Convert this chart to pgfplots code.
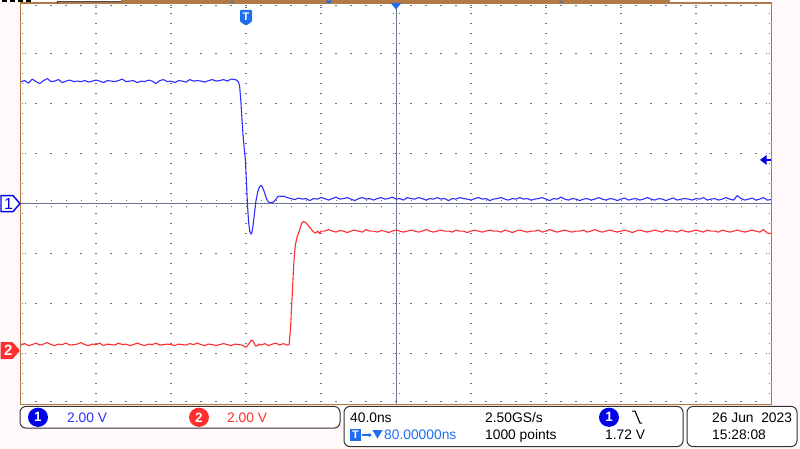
\documentclass[border=0pt]{standalone}
\usepackage{fontspec}
\setmainfont{Liberation Sans}
\usepackage{pgfplots}
\pgfplotsset{compat=1.18}
\usetikzlibrary{arrows.meta}
\definecolor{bg}{RGB}{255,249,252}
\definecolor{brd}{RGB}{178,122,70}
\definecolor{dotc}{RGB}{105,112,145}
\definecolor{crossc}{RGB}{110,118,148}
\definecolor{chA}{RGB}{45,45,255}
\definecolor{chB}{RGB}{255,45,45}
\definecolor{tblue}{RGB}{30,110,240}
\definecolor{boxc}{RGB}{50,50,50}
\definecolor{cA}{RGB}{0,0,235}
\newcommand\pf{\fontsize{13.8}{14}\selectfont}
\begin{document}
\begin{tikzpicture}
\begin{scope}[x=1pt,y=1pt]
\path[use as bounding box] (0,0) rectangle (800,448);
\fill[bg] (0,0) rectangle (800,448);
\fill[white] (21,44.5) rectangle (771,445);
% dotted graticule
\foreach \k in {96,171,246,321,471,546,621,696} {
  \draw[dotc, line width=1.1pt, dash pattern=on 1.1pt off 8.9pt] (\k,54.45) -- (\k,436);
  \fill[dotc] (\k-0.55,440.2) rectangle +(1.1,1.1);
}
\foreach \m in {95,145,195,295,345,395} {
  \draw[dotc, line width=1.1pt, dash pattern=on 1.1pt off 13.9pt] (35.45,\m) -- (757,\m);
  \fill[dotc] (765.5,\m-0.55) rectangle +(1.1,1.1);
  \fill[dotc] (24.5,\m-0.55) rectangle +(1.1,1.1);
}
\draw[dotc, line width=1.1pt, dash pattern=on 1.1pt off 13.9pt] (35.45,443.3) -- (757,443.3);
\draw[dotc, line width=1.1pt, dash pattern=on 1.1pt off 13.9pt] (35.45,46.7) -- (757,46.7);
\draw[dotc, line width=1.1pt, dash pattern=on 1.1pt off 8.9pt] (22.6,54.45) -- (22.6,436);
\draw[dotc, line width=1.1pt, dash pattern=on 1.1pt off 8.9pt] (769.3,54.45) -- (769.3,436);
% centre cross
\draw[crossc, line width=1pt] (21,245) -- (771,245);
\draw[crossc, line width=1pt] (396,44.5) -- (396,445);
\foreach \i in {36,51,...,756} {\draw[dotc, line width=0.9pt, dash pattern=on 0.9pt off 2.1pt] (\i,241.5) -- (\i,249);}
\foreach \j in {55,65,...,435} {\draw[dotc, line width=0.9pt, dash pattern=on 0.9pt off 2.1pt] (392.5,\j) -- (400,\j);}
\end{scope}

\begin{axis}[at={(21pt,45pt)}, anchor=south west, scale only axis,
  width=750pt, height=400pt, xmin=-120, xmax=280, ymin=-8, ymax=8,
  axis line style={draw=none}, ticks=none, clip=true]
% Channel 1 (blue)
\addplot[chA, line width=1.1pt, line join=round] coordinates {
(-120,4.88)(-118,4.92)(-116,4.82)(-114,4.98)(-112,4.88)(-110,4.80)(-108,4.92)(-106,5.00)(-104,4.88)(-102,4.90)
(-100,4.96)(-98,4.84)(-96,4.90)(-94,4.94)(-92,4.88)(-90,4.90)(-88,4.88)(-86,4.92)(-84,4.86)(-82,4.90)
(-80,4.94)(-78,4.90)(-76,4.84)(-74,4.92)(-72,4.90)(-70,4.88)(-68,4.92)(-66,4.98)(-64,4.88)(-62,4.90)
(-60,4.92)(-58,4.84)(-56,4.90)(-54,4.88)(-52,4.94)(-50,4.90)(-48,4.80)(-46,4.92)(-44,4.96)(-42,4.88)
(-40,4.90)(-38,4.84)(-36,4.92)(-34,4.90)(-32,4.86)(-30,4.96)(-28,4.90)(-26,4.92)(-24,4.90)(-22,4.86)
(-20,4.92)(-18,4.96)(-16,4.90)(-14,4.92)(-12,4.96)(-10,4.90)(-8,4.98)(-6,4.96)
(-5.0,4.94)(-4.0,4.86)(-3.4,4.70)(-2.8,4.15)(-2.2,3.45)(-1.6,2.75)(-1.0,2.25)(-0.3,1.72)(0.2,0.90)(0.8,-0.05)
(1.4,-0.75)(2.0,-1.10)(2.7,-1.22)(3.2,-1.15)(3.8,-0.85)(4.5,-0.40)(5.3,0.10)(6.2,0.45)(7.1,0.66)(7.9,0.72)
(8.6,0.68)(9.4,0.54)(10.2,0.36)(11.0,0.18)(11.8,0.08)(12.6,0.04)(13.6,0.04)(14.6,0.06)(15.4,0.12)(16.2,0.20)
(17.0,0.28)(18.0,0.30)(19.0,0.28)
(20,0.30)(22,0.24)(24,0.20)(26,0.16)(28,0.22)(30,0.18)(32,0.20)(34,0.12)(36,0.20)(38,0.18)
(40,0.24)(42,0.20)(44,0.14)(46,0.20)(48,0.26)(50,0.18)(52,0.20)(54,0.24)(56,0.18)(58,0.12)
(60,0.20)(62,0.24)(64,0.18)(66,0.20)(68,0.14)(70,0.20)(72,0.24)(74,0.18)(76,0.20)(78,0.26)
(80,0.18)(82,0.20)(84,0.14)(86,0.24)(88,0.20)(90,0.18)(92,0.24)(94,0.20)(96,0.14)(98,0.20)
(100,0.18)(102,0.24)(104,0.18)(106,0.20)(108,0.12)(110,0.20)(112,0.18)(114,0.24)(116,0.20)(118,0.18)
(120,0.14)(122,0.20)(124,0.24)(126,0.18)(128,0.20)(130,0.12)(132,0.18)(134,0.20)(136,0.24)(138,0.18)
(140,0.14)(142,0.20)(144,0.18)(146,0.24)(148,0.18)(150,0.20)(152,0.14)(154,0.18)(156,0.20)(158,0.24)
(160,0.18)(162,0.12)(164,0.20)(166,0.18)(168,0.26)(170,0.18)(172,0.14)(174,0.20)(176,0.18)(178,0.12)
(180,0.18)(182,0.20)(184,0.14)(186,0.18)(188,0.24)(190,0.18)(192,0.14)(194,0.20)(196,0.18)(198,0.12)
(200,0.18)(202,0.22)(204,0.14)(206,0.18)(208,0.20)(210,0.14)(212,0.18)(214,0.24)(216,0.18)(218,0.14)
(220,0.20)(222,0.18)(224,0.12)(226,0.18)(228,0.22)(230,0.14)(232,0.18)(234,0.20)(236,0.18)(238,0.14)
(240,0.20)(242,0.18)(244,0.24)(246,0.14)(248,0.18)(250,0.20)(252,0.14)(254,0.18)(256,0.24)(258,0.18)
(260,0.14)(262,0.32)(264,0.20)(266,0.14)(268,0.18)(270,0.22)(272,0.14)(274,0.18)(276,0.24)(278,0.14)
(280,0.16)
};
% Channel 2 (red)
\addplot[chB, line width=1.1pt, line join=round] coordinates {
(-120,-5.66)(-118,-5.60)(-116,-5.68)(-114,-5.64)(-112,-5.58)(-110,-5.66)(-108,-5.62)(-106,-5.56)(-104,-5.64)(-102,-5.68)
(-100,-5.62)(-98,-5.64)(-96,-5.58)(-94,-5.66)(-92,-5.64)(-90,-5.62)(-88,-5.56)(-86,-5.64)(-84,-5.68)(-82,-5.62)
(-80,-5.64)(-78,-5.58)(-76,-5.68)(-74,-5.62)(-72,-5.64)(-70,-5.66)(-68,-5.58)(-66,-5.64)(-64,-5.62)(-62,-5.68)
(-60,-5.64)(-58,-5.58)(-56,-5.64)(-54,-5.68)(-52,-5.62)(-50,-5.64)(-48,-5.58)(-46,-5.66)(-44,-5.64)(-42,-5.62)
(-40,-5.64)(-38,-5.68)(-36,-5.62)(-34,-5.64)(-32,-5.66)(-30,-5.60)(-28,-5.64)(-26,-5.58)(-24,-5.64)(-22,-5.68)
(-20,-5.62)(-18,-5.64)(-16,-5.68)(-14,-5.64)(-12,-5.60)(-10,-5.64)(-8,-5.68)(-6,-5.62)(-4,-5.64)(-2,-5.66)
(-1,-5.72)(0,-5.74)(1,-5.66)(2,-5.56)(2.8,-5.46)(3.6,-5.48)(4.4,-5.60)(5.2,-5.70)(6.2,-5.68)(7,-5.62)
(8,-5.66)(10,-5.60)(12,-5.68)(14,-5.62)(16,-5.58)(18,-5.66)(20,-5.60)(22,-5.66)(23.0,-5.64)
(23.4,-5.30)(23.8,-4.94)(24.2,-4.27)(24.7,-3.60)(25.2,-2.80)(25.6,-2.27)(26.3,-1.67)(27.2,-1.34)(28.4,-1.10)(29.2,-0.90)
(29.9,-0.76)(30.6,-0.72)(31.4,-0.74)(32.2,-0.78)(33.0,-0.86)(33.8,-0.94)(34.8,-1.02)(35.8,-1.12)(37.0,-1.18)(38.2,-1.10)
(39.2,-1.20)(40.0,-1.10)
(42,-1.10)(44,-1.04)(46,-1.10)(48,-1.14)(50,-1.08)(52,-1.10)(54,-1.16)(56,-1.10)(58,-1.06)(60,-1.10)
(62,-1.14)(64,-1.04)(66,-1.10)(68,-1.10)(70,-1.14)(72,-1.08)(74,-1.10)(76,-1.16)(78,-1.10)(80,-1.06)
(82,-1.10)(84,-1.14)(86,-1.10)(88,-1.06)(90,-1.10)(92,-1.14)(94,-1.10)(96,-1.04)(98,-1.10)(100,-1.14)
(102,-1.10)(104,-1.06)(106,-1.10)(108,-1.10)(110,-1.14)(112,-1.06)(114,-1.10)(116,-1.10)(118,-1.16)(120,-1.10)
(122,-1.06)(124,-1.10)(126,-1.14)(128,-1.10)(130,-1.06)(132,-1.10)(134,-1.10)(136,-1.14)(138,-1.06)(140,-1.10)
(142,-1.16)(144,-1.10)(146,-1.06)(148,-1.10)(150,-1.14)(152,-1.10)(154,-1.10)(156,-1.06)(158,-1.14)(160,-1.10)
(162,-1.04)(164,-1.10)(166,-1.14)(168,-1.10)(170,-1.06)(172,-1.10)(174,-1.14)(176,-1.10)(178,-1.10)(180,-1.06)
(182,-1.14)(184,-1.10)(186,-1.04)(188,-1.10)(190,-1.14)(192,-1.10)(194,-1.06)(196,-1.10)(198,-1.14)(200,-1.10)
(202,-1.06)(204,-1.10)(206,-1.16)(208,-1.10)(210,-1.06)(212,-1.10)(214,-1.14)(216,-1.10)(218,-1.06)(220,-1.10)
(222,-1.14)(224,-1.06)(226,-1.10)(228,-1.10)(230,-1.14)(232,-1.06)(234,-1.10)(236,-1.14)(238,-1.10)(240,-1.06)
(242,-1.10)(244,-1.14)(246,-1.06)(248,-1.10)(250,-1.10)(252,-1.14)(254,-1.06)(256,-1.10)(258,-1.14)(260,-1.10)
(262,-1.06)(264,-1.10)(266,-1.14)(268,-1.10)(270,-1.06)(272,-1.10)(274,-1.14)(276,-1.04)(278,-1.18)(280,-1.20)
};
\end{axis}

\begin{scope}[x=1pt,y=1pt]
% graticule border
\draw[brd, line width=1.3pt] (20.6,44.3) rectangle (771.4,445.6);
% record bar at top
\draw[brd, line width=2pt] (121,447.3) -- (670,447.3);
\draw[brd, line width=1.2pt] (121,448) -- (121,445.5);
\draw[black, line width=1.5pt, dash pattern=on 5pt off 3pt] (2,447.4) -- (31,447.4);
\draw[black, line width=0.8pt] (57,448) -- (57,445.5);
\draw[black!70, line width=0.6pt] (57,447.7) -- (121,447.7);
\fill[dotc] (230,446) rectangle (234,448);
\fill[dotc] (559,446) rectangle (563,448);
\fill[tblue] (326,448) arc[start angle=180, end angle=360, radius=3];
% trigger marker T
\fill[tblue, rounded corners=1pt] (240,438.7) -- (252,438.7) -- (252,427) -- (246,423) -- (240,427) -- cycle;
\node[white, font=\fontsize{11}{11}\selectfont\bfseries, inner sep=0] at (246,431.5) {T};
% trigger position triangle at top
\fill[tblue] (390.8,445.5) -- (401.2,445.5) -- (396,439) -- cycle;
% trigger level arrow right
\fill[cA] (760,288.7) -- (766.5,293.6) -- (766.5,283.8) -- cycle;
\draw[cA, line width=1.3pt] (766,288.7) -- (771,288.7);
% channel markers
\draw[cA, fill=white, line width=1.4pt, line join=round] (1,237) -- (13,237) -- (20,245) -- (13,253) -- (1,253) -- cycle;
\node[text=cA, font=\fontsize{16}{16}\selectfont, inner sep=0] at (8.5,245) {1};
\fill[chB, rounded corners=0.8pt] (0.5,89.5) -- (12.5,89.5) -- (20,98) -- (12.5,106.5) -- (0.5,106.5) -- cycle;
\node[white, font=\fontsize{15}{15}\selectfont\bfseries, inner sep=0] at (8.2,98) {2};
% info panels
\draw[boxc, line width=1pt, rounded corners=6pt, fill=white] (20,20.5) rectangle (340,42.2);
\draw[boxc, line width=1pt, rounded corners=6pt, fill=white] (344,2) rectangle (683,42.2);
\draw[boxc, line width=1pt, rounded corners=6pt, fill=white] (687,2) rectangle (797,42.2);
% panel 1
\fill[cA] (38,31.3) ellipse (10 and 9.6);
\node[white, font=\fontsize{13.5}{13}\selectfont\bfseries, inner sep=0] at (38,31.3) {1};
\node[anchor=base west, text=chA, font=\pf, inner sep=0] at (67,26) {2.00 V};
\fill[chB] (199,31.3) ellipse (10 and 9.6);
\node[white, font=\fontsize{13.5}{13}\selectfont\bfseries, inner sep=0] at (199,31.3) {2};
\node[anchor=base west, text=chB, font=\pf, inner sep=0] at (227,26) {2.00 V};
% panel 2
\node[anchor=base west, font=\pf, inner sep=0] at (350,26) {40.0ns};
\node[anchor=base west, font=\pf, inner sep=0] at (485,26) {2.50GS/s};
\fill[cA] (609,31.3) ellipse (10 and 9.6);
\node[white, font=\fontsize{13.5}{13}\selectfont\bfseries, inner sep=0] at (609,31.3) {1};
\draw[black, line width=1.1pt] (632,37.5) -- (635,37.5) -- (640,25.5) -- (642,25.5);
\fill[tblue] (350,7.3) rectangle (361,19.7);
\node[white, font=\fontsize{11}{11}\selectfont\bfseries, inner sep=0] at (355.5,13.5) {T};
\draw[tblue, line width=1.2pt, -{Stealth[length=3.5pt,width=4pt]}] (362,13.5) -- (372,13.5);
\fill[tblue] (372.5,18.5) -- (382.5,18.5) -- (377.5,10) -- cycle;
\node[anchor=base west, text=tblue, font=\pf, inner sep=0] at (384,9) {80.00000ns};
\node[anchor=base west, font=\pf, inner sep=0] at (485,9) {1000 points};
\node[anchor=base west, font=\pf, inner sep=0] at (605,9) {1.72 V};
% panel 3
\node[anchor=base west, font=\pf, inner sep=0] at (712,26) {26 Jun\ \ 2023};
\node[anchor=base west, font=\pf, inner sep=0] at (712,9) {15:28:08};
\end{scope}
\end{tikzpicture}
\end{document}
